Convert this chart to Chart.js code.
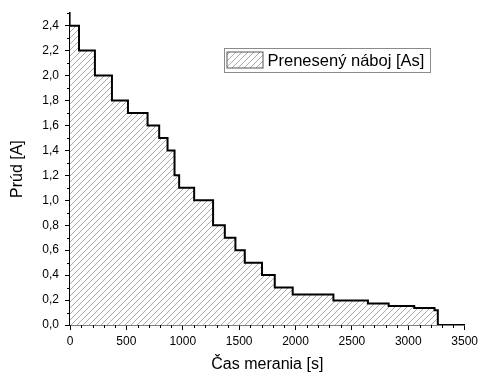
<!DOCTYPE html>
<html>
<head>
<meta charset="utf-8">
<script src="https://cdn.jsdelivr.net/npm/chart.js@4.4.1/dist/chart.umd.min.js"></script>
<style>
  html, body { margin: 0; padding: 0; background: #fff; }
  #wrap { width: 482px; height: 377px; position: relative; }
</style>
</head>
<body>
<div id="wrap"><canvas id="c" width="482" height="377"></canvas></div>
<script>
// ---- data ----
const timeValues    = [0, 80, 221, 372, 514, 688, 791, 865, 927, 968, 1101, 1269, 1373, 1467, 1550, 1703, 1816, 1975, 2336, 2642, 2826, 3053, 3233, 3262];
const currentValues = [2.4, 2.2, 2.0, 1.8, 1.7, 1.6, 1.5, 1.4, 1.2, 1.1, 1.0, 0.8, 0.7, 0.6, 0.5, 0.4, 0.3, 0.245, 0.197, 0.172, 0.153, 0.136, 0.118, 0];
const xTickValues = [0, 500, 1000, 1500, 2000, 2500, 3000, 3500];
const yTickValues = [0, 0.2, 0.4, 0.6, 0.8, 1.0, 1.2, 1.4, 1.6, 1.8, 2.0, 2.2, 2.4];
const xTitle = 'Čas merania [s]';
const yTitle = 'Prúd [A]';
const seriesLabel = 'Prenesený náboj [As]';

const FONT = '"Liberation Sans", Arial, sans-serif';

function makeHatch() {
  const s = 6;
  const pc = document.createElement('canvas');
  pc.width = s; pc.height = s;
  const g = pc.getContext('2d');
  g.fillStyle = '#ffffff';
  g.fillRect(0, 0, s, s);
  g.strokeStyle = '#a0a0a0';
  g.lineWidth = 0.9;
  g.beginPath();
  for (let k = -1; k <= 1; k++) {
    g.moveTo(k * s, s);
    g.lineTo(k * s + s, 0);
  }
  g.stroke();
  return g.createPattern(pc, 'repeat');
}
const ctxMain = document.getElementById('c').getContext('2d');
const hatch = makeHatch();

// each point: the current that starts at that time; 'before' stepping keeps it until the next time
const points = timeValues.map((t, i) => ({ x: t, y: currentValues[i] }));

const decorPlugin = {
  id: 'decor',
  afterDraw(chart) {
    const ctx = chart.ctx;
    const xs = chart.scales.x, ys = chart.scales.y;
    const area = chart.chartArea;
    ctx.save();
    // minor ticks
    ctx.strokeStyle = '#000';
    ctx.lineWidth = 1;
    ctx.beginPath();
    for (let v = 100; v < 3500; v += 100) {
      if (v % 500 === 0) continue;
      const px = Math.round(xs.getPixelForValue(v)) + 0.5;
      ctx.moveTo(px, area.bottom);
      ctx.lineTo(px, area.bottom + 3);
    }
    for (let k = 1; k <= 25; k += 2) {
      const py = Math.round(ys.getPixelForValue(k / 10)) + 0.5;
      ctx.moveTo(area.left, py);
      ctx.lineTo(area.left - 3, py);
    }
    ctx.stroke();
    // axis titles
    ctx.fillStyle = '#000';
    ctx.font = '16px ' + FONT;
    ctx.textAlign = 'center';
    ctx.textBaseline = 'middle';
    ctx.fillText(xTitle, (area.left + area.right) / 2, 365);
    ctx.save();
    ctx.translate(18, (area.top + area.bottom) / 2);
    ctx.rotate(-Math.PI / 2);
    ctx.fillText(yTitle, 0, 0);
    ctx.restore();
    // legend
    const bx = 224.5, by = 48.5, bw = 206, bh = 24;
    ctx.strokeStyle = '#8a8a8a';
    ctx.lineWidth = 1;
    ctx.strokeRect(bx, by, bw, bh);
    ctx.fillStyle = hatch;
    ctx.fillRect(bx + 2.5, by + 3.5, 36, 16);
    ctx.strokeStyle = '#555';
    ctx.strokeRect(bx + 2.5, by + 3.5, 36, 16);
    ctx.fillStyle = '#000';
    ctx.textAlign = 'left';
    ctx.font = '16.5px ' + FONT;
    ctx.fillText(seriesLabel, bx + 43, by + bh / 2 + 0.5);
    ctx.restore();
  }
};

new Chart(ctxMain, {
  type: 'line',
  data: {
    datasets: [{
      label: seriesLabel,
      data: points,
      stepped: 'before',
      borderColor: '#000',
      borderWidth: 2,
      backgroundColor: hatch,
      fill: 'origin',
      pointRadius: 0,
      tension: 0
    }]
  },
  options: {
    responsive: false,
    animation: false,
    devicePixelRatio: 1,
    layout: { padding: { top: 8, right: 17, left: 0, bottom: 0 } },
    plugins: { legend: { display: false }, tooltip: { enabled: false } },
    scales: {
      x: {
        type: 'linear',
        min: 0, max: 3500,
        afterFit(s) { s.height = 52; },
        afterBuildTicks(s) { s.ticks = xTickValues.map(v => ({ value: v })); },
        grid: { drawOnChartArea: false, drawTicks: true, tickLength: 5, tickColor: '#000', tickWidth: 1 },
        border: { display: true, color: '#000', width: 1.6 },
        ticks: { font: { family: FONT, size: 12 }, color: '#000', padding: 4, maxRotation: 0,
                 callback: v => String(v) }
      },
      y: {
        type: 'linear',
        min: 0, max: 2.5,
        afterFit(s) { s.width = 70; },
        afterBuildTicks(s) { s.ticks = yTickValues.map(v => ({ value: v })); },
        grid: { drawOnChartArea: false, drawTicks: true, tickLength: 5, tickColor: '#000', tickWidth: 1 },
        border: { display: true, color: '#000', width: 1.6 },
        ticks: { font: { family: FONT, size: 12 }, color: '#000', padding: 6,
                 callback: v => Number(v).toFixed(1).replace('.', ',') }
      }
    }
  },
  plugins: [decorPlugin]
});
</script>
</body>
</html>
